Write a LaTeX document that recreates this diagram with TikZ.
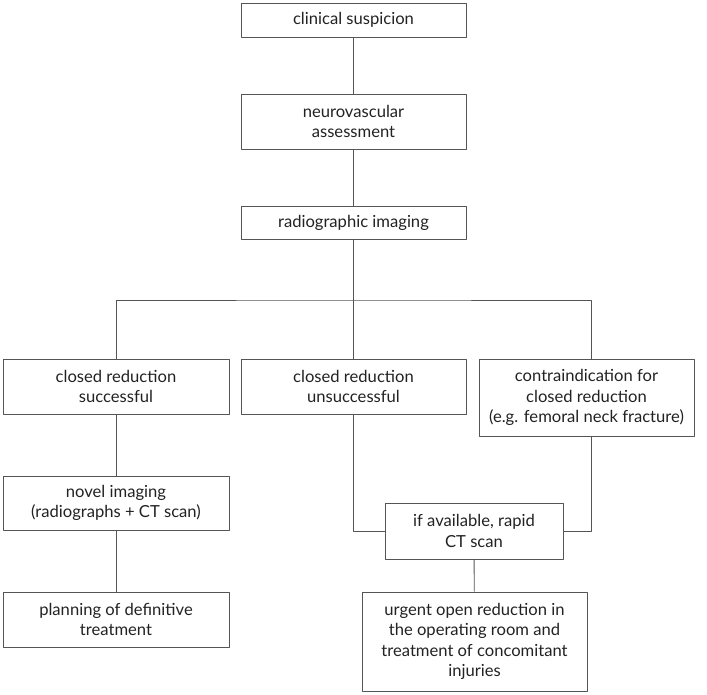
\documentclass[tikz,border=0pt]{standalone}
\usepackage{fontspec}
\setmainfont{Lato}
\tikzset{>=latex}
\definecolor{linegray}{HTML}{555555}
\definecolor{textgray}{HTML}{222222}
\tikzset{
  box/.style={draw=linegray, line width=0.9pt, align=center, inner sep=0pt,
    text=textgray, font=\fontsize{16.6}{20.5}\selectfont},
  link/.style={draw=linegray, line width=0.9pt}
}

\begin{document}
\begin{tikzpicture}[x=1pt, y=-1pt, line join = round]
    \useasboundingbox (0,0) rectangle (707,695);
    % top column
    \node[box, minimum width=225pt, minimum height=34pt] (susp) at (353.5,20) {clinical suspicion};
    \node[box, minimum width=225pt, minimum height=55pt] (neuro) at (353.5,121.5) {neurovascular\\assessment};
    \node[box, minimum width=225pt, minimum height=33pt] (radio) at (353.5,222.5) {radiographic imaging};
    % three outcomes
    \node[box, minimum width=226pt, minimum height=55pt] (succ) at (116,386.5) {closed reduction\\successful};
    \node[box, minimum width=225pt, minimum height=55pt] (unsucc) at (353.5,386.5) {closed reduction\\unsuccessful};
    \node[box, minimum width=215pt, minimum height=77pt] (contra) at (586.5,397.5) {contraindication for\\closed reduction\\(e.g. femoral neck fracture)};
    % follow up
    \node[box, minimum width=226pt, minimum height=54pt] (novel) at (116,503) {novel imaging\\(radiographs + CT scan)};
    \node[box, minimum width=226pt, minimum height=55pt] (plan) at (116,619.5) {planning of definitive\\treatment};
    \node[box, minimum width=178pt, minimum height=56pt] (ctscan) at (474,531) {if available, rapid\\CT scan};
    \node[box, minimum width=225pt, minimum height=99pt] (urgent) at (474.5,641.5) {urgent open reduction in\\the operating room and\\treatment of concomitant\\injuries};
    \coordinate (split) at (353.5,300);

    \draw[link] (susp) -- (neuro);
    \draw[link] (neuro) -- (radio);
    \draw[link] (radio) -- (unsucc);
    \draw[link] (succ.north) |- (split) -| ([xshift=4.5pt]contra.north);
    \draw[link] (succ) -- (novel);
    \draw[link] (novel) -- (plan);
    \draw[link] (unsucc.south) |- (ctscan.west);
    \draw[link] ([xshift=4.5pt]contra.south) |- (ctscan.east);
    \draw[link] (ctscan) -- (urgent);
\end{tikzpicture}
\end{document}
